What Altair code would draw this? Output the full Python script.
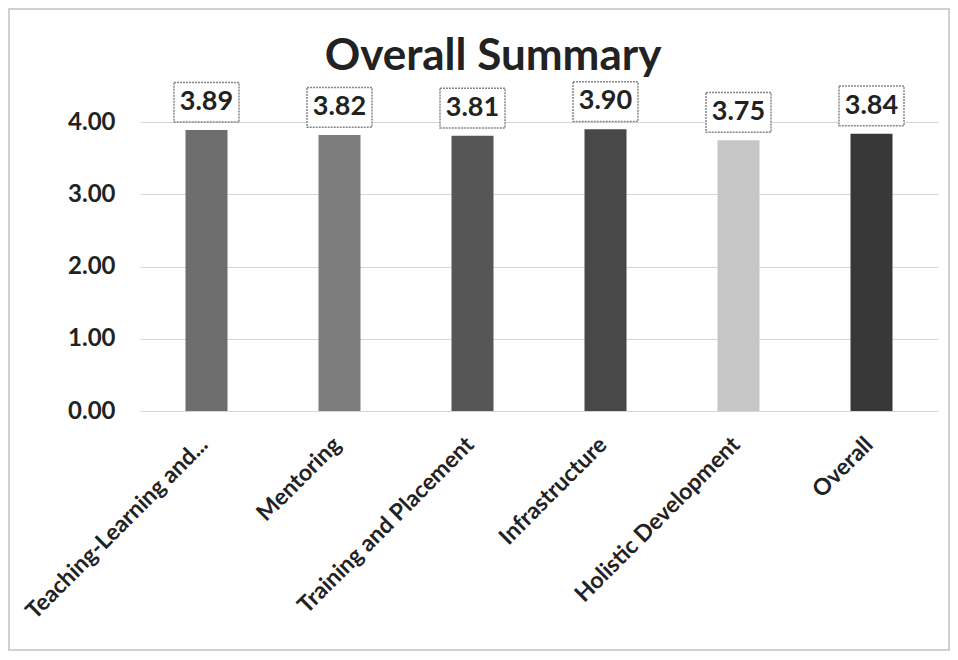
import altair as alt
import pandas as pd

categories = ["Teaching-Learning and...", "Mentoring", "Training and Placement",
              "Infrastructure", "Holistic Development", "Overall"]
scores = [3.89, 3.82, 3.81, 3.90, 3.75, 3.84]
bar_colors = ["#6e6e6e", "#7d7d7d", "#565656", "#484848", "#c6c6c6", "#383838"]
y_ticks = [0, 1, 2, 3, 4]
title_text = ["Overall Summary"]

df = pd.DataFrame({"category": categories, "score": scores, "color": bar_colors})

W, H = 798, 325
FONT = "Lato"

x_enc = alt.X("category:N", sort=categories,
              scale=alt.Scale(paddingInner=0.69, paddingOuter=0.345),
              axis=alt.Axis(title=None, labelAngle=-45, labelFontSize=23,
                            labelFontWeight="bold",
                            labelColor="#222222", labelFont=FONT, labelPadding=22,
                            labelOffset=-10,
                            domain=False, ticks=False, labelLimit=400))
y_scale = alt.Scale(domain=[0, 4.5], nice=False)

base = alt.Chart(df)

bars = base.mark_bar(width=42).encode(
    x=x_enc,
    y=alt.Y("score:Q", scale=y_scale,
            axis=alt.Axis(title=None, values=y_ticks, format=".2f", domain=False,
                          ticks=False, grid=True, gridColor="#d6d6d6",
                          labelFontSize=24, labelFontWeight="bold", labelColor="#222222",
                          labelFont=FONT, labelPadding=25)),
    color=alt.Color("color:N", scale=None),
)

boxes = base.transform_calculate(
    lo="datum.score + 0.11", hi="datum.score + 0.66"
).mark_bar(width=65, fill="white", stroke="#888888", strokeDash=[2, 1],
           strokeWidth=1.5).encode(
    x=alt.X("category:N", sort=categories),
    y=alt.Y("lo:Q", scale=y_scale),
    y2="hi:Q",
)

labels = base.mark_text(dy=-28, baseline="middle", fontSize=27, fontWeight="bold",
                        font=FONT, color="#222222").encode(
    x=alt.X("category:N", sort=categories),
    y=alt.Y("score:Q", scale=y_scale),
    text=alt.Text("score:Q", format=".2f"),
)

title = alt.Chart(pd.DataFrame({"t": title_text})).mark_text(
    fontSize=44, fontWeight="bold", font=FONT, color="#222222",
    align="center", baseline="alphabetic"
).encode(x=alt.value(353), y=alt.value(-16), text="t:N")

frame = alt.Chart(df).mark_rect(fill=None, stroke="#cfcfcf", strokeWidth=1.5).encode(
    x=alt.value(-131), x2=alt.value(W + 11), y=alt.value(-77), y2=alt.value(H + 239)
)

chart = alt.layer(frame, bars, boxes, labels, title).properties(
    width=W, height=H,
    padding={"left": 132, "top": 78, "right": 12, "bottom": 240},
    autosize=alt.AutoSizeParams(type="none"),
).configure(background="white").configure_view(stroke=None)

chart.save("out.html", embed_options={"renderer": "svg", "actions": False})
